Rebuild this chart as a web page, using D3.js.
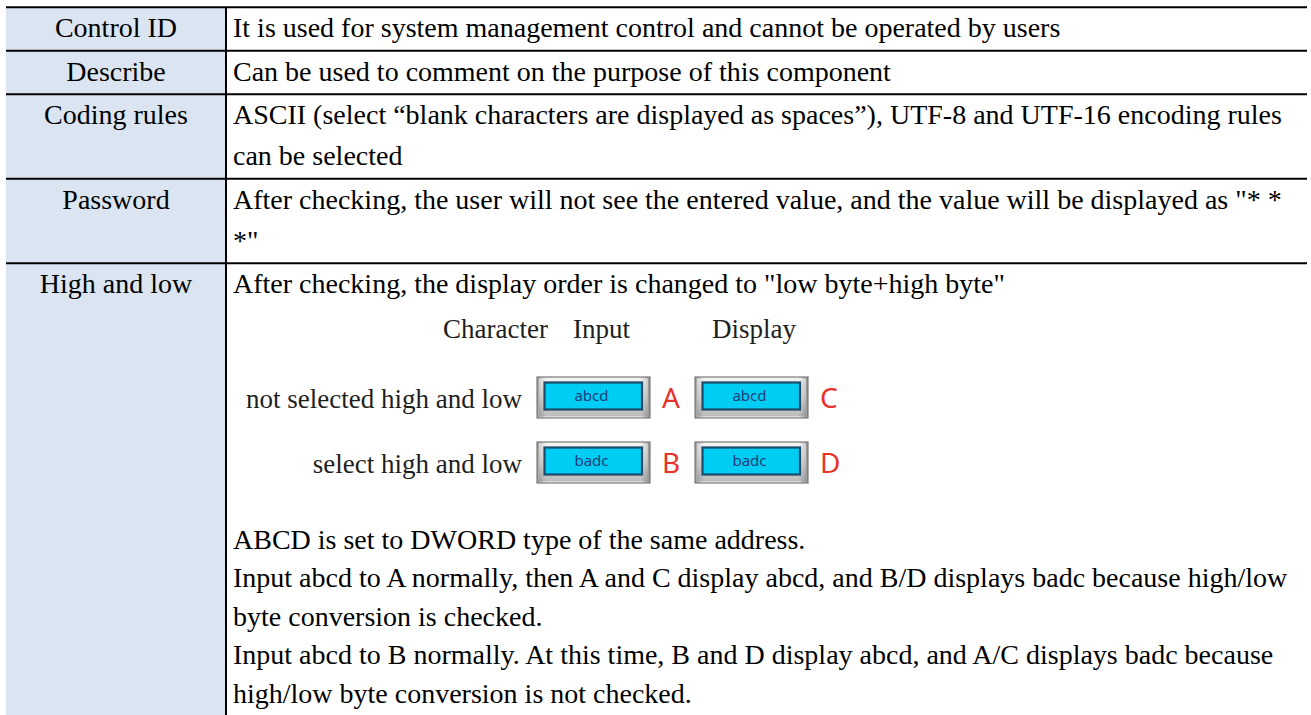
<!DOCTYPE html>
<html>
<head>
<meta charset="utf-8">
<script src="https://cdn.jsdelivr.net/npm/d3@7"></script>
<style>
  html, body { margin: 0; padding: 0; background: #fff; }
  svg { display: block; }
</style>
</head>
<body>
<svg id="chart" width="1311" height="715"></svg>
<script>
// ---------------- data ----------------
const rowLabels = ["Control ID", "Describe", "Coding rules", "Password", "High and low"];
const rowTexts = [
  ["It is used for system management control and cannot be operated by users"],
  ["Can be used to comment on the purpose of this component"],
  ["ASCII (select \u201cblank characters are displayed as spaces\u201d), UTF-8 and UTF-16 encoding rules",
   "can be selected"],
  ["After checking, the user will not see the entered value, and the value will be displayed as \"* *",
   "*\""],
  ["After checking, the display order is changed to \"low byte+high byte\""]
];
const rowLineCounts = [1, 1, 2, 2, 12];
const figHeaders = ["Character", "Input", "Display"];
const figRowLabels = ["not selected high and low", "select high and low"];
const figInputValues = ["abcd", "badc"];
const figInputLetters = ["A", "B"];
const figDisplayValues = ["abcd", "badc"];
const figDisplayLetters = ["C", "D"];
const noteLines = [
  "ABCD is set to DWORD type of the same address.",
  "Input abcd to A normally, then A and C display abcd, and B/D displays badc because high/low",
  "byte conversion is checked.",
  "Input abcd to B normally. At this time, B and D display abcd, and A/C displays badc because",
  "high/low byte conversion is not checked."
];

// ---------------- layout ----------------
const W = 1311, H = 715;
const tableLeft = 6, tableRight = 1307, divX = 226, tableTop = 7.3;
const lineH = 41, rowPad = 2.5;
const FONT = "'Liberation Serif', 'Times New Roman', serif";
const SANS = "'Noto Sans', 'DejaVu Sans', sans-serif";

const svg = d3.select("#chart");
const defs = svg.append("defs");
const g1 = defs.append("linearGradient").attr("id", "frameGrad").attr("x1", 0).attr("y1", 0).attr("x2", 0).attr("y2", 1);
g1.append("stop").attr("offset", "0%").attr("stop-color", "#f2f2f2");
g1.append("stop").attr("offset", "45%").attr("stop-color", "#d4d4d4");
g1.append("stop").attr("offset", "100%").attr("stop-color", "#8c8c8c");
const g2 = defs.append("linearGradient").attr("id", "frameGradH").attr("x1", 0).attr("y1", 0).attr("x2", 1).attr("y2", 0);
g2.append("stop").attr("offset", "0%").attr("stop-color", "#9a9a9a");
g2.append("stop").attr("offset", "8%").attr("stop-color", "#f4f4f4");
g2.append("stop").attr("offset", "92%").attr("stop-color", "#f4f4f4");
g2.append("stop").attr("offset", "100%").attr("stop-color", "#8a8a8a");

// row boundaries
const rowHeights = rowLineCounts.map((n, i) => i < 4 ? n * lineH + rowPad : 600);
const rowTops = [];
let acc = tableTop;
rowHeights.forEach(h => { rowTops.push(acc); acc += h; });

const x = d3.scaleLinear().domain([0, 1]).range([tableLeft, tableRight]);

// left column background
svg.append("rect")
  .attr("x", tableLeft).attr("y", tableTop)
  .attr("width", divX - tableLeft).attr("height", H - tableTop + 10)
  .attr("fill", "#dbe5f1");

// horizontal lines
svg.selectAll("line.hrow").data(rowTops).join("line")
  .attr("class", "hrow")
  .attr("x1", x(0)).attr("x2", x(1))
  .attr("y1", d => d).attr("y2", d => d)
  .attr("stroke", "#000").attr("stroke-width", 2);

// vertical divider
svg.append("line")
  .attr("x1", divX).attr("x2", divX)
  .attr("y1", tableTop).attr("y2", H + 5)
  .attr("stroke", "#000").attr("stroke-width", 2);

// labels
svg.selectAll("text.label").data(rowLabels).join("text")
  .attr("class", "label")
  .attr("x", (tableLeft + divX) / 2)
  .attr("y", (d, i) => rowTops[i] + 30)
  .attr("text-anchor", "middle")
  .attr("font-family", FONT).attr("font-size", 28).attr("fill", "#000")
  .text(d => d);

// description texts
rowTexts.forEach((lines, i) => {
  svg.selectAll(null).data(lines).join("text")
    .attr("x", 233)
    .attr("y", (d, j) => rowTops[i] + 30 + j * lineH)
    .attr("font-family", FONT).attr("font-size", 28).attr("fill", "#000")
    .text(d => d);
});

// ---------------- figure inside "High and low" ----------------
const fig = svg.append("g");
const headerX = [443, 573, 712];
fig.selectAll("text.hdr").data(figHeaders).join("text")
  .attr("x", (d, i) => headerX[i]).attr("y", 338)
  .attr("font-family", FONT).attr("font-size", 27).attr("fill", "#1e1e1e")
  .text(d => d);

const rowY = d3.scalePoint().domain(figRowLabels).range([377, 442]);
fig.selectAll("text.frow").data(figRowLabels).join("text")
  .attr("x", 522).attr("y", d => rowY(d) + 31)
  .attr("text-anchor", "end")
  .attr("font-family", FONT).attr("font-size", 27).attr("fill", "#1e1e1e")
  .text(d => d);

const colX = d3.scaleOrdinal().domain(["input", "display"]).range([537, 695]);
const boxes = [];
figRowLabels.forEach((r, i) => {
  boxes.push({ row: r, col: "input", value: figInputValues[i], letter: figInputLetters[i] });
  boxes.push({ row: r, col: "display", value: figDisplayValues[i], letter: figDisplayLetters[i] });
});
const bw = 113, bh = 41;
const bg = fig.selectAll("g.box").data(boxes).join("g")
  .attr("class", "box")
  .attr("transform", d => `translate(${colX(d.col)},${rowY(d.row)})`);
bg.append("rect").attr("width", bw).attr("height", bh)
  .attr("fill", "url(#frameGradH)").attr("stroke", "#7a7a7a").attr("stroke-width", 1.2);
bg.append("rect").attr("x", 2).attr("y", 1.5).attr("width", bw - 4).attr("height", bh - 3)
  .attr("fill", "url(#frameGrad)").attr("opacity", 0.55);
bg.append("rect").attr("x", 7.5).attr("y", 5.5).attr("width", bw - 15.5).attr("height", 27)
  .attr("fill", "#00cdf4").attr("stroke", "#1b4a6a").attr("stroke-width", 2.2);
bg.append("text").attr("x", bw / 2 - 2).attr("y", 24)
  .attr("text-anchor", "middle")
  .attr("font-family", SANS).attr("font-size", 15).attr("fill", "#203c78")
  .text(d => d.value);
bg.append("text").attr("x", bw + 12).attr("y", 31)
  .attr("font-family", SANS).attr("font-size", 28).attr("fill", "#e8332c")
  .text(d => d.letter);

// notes
svg.selectAll("text.note").data(noteLines).join("text")
  .attr("class", "note")
  .attr("x", 233)
  .attr("y", (d, i) => 548.5 + i * 38.5)
  .attr("font-family", FONT).attr("font-size", 28).attr("fill", "#000")
  .text(d => d);
</script>
</body>
</html>
